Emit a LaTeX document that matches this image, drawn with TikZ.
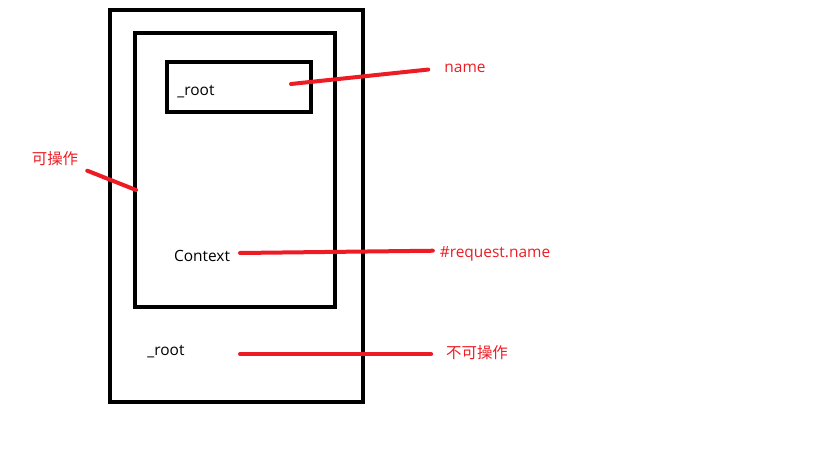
\documentclass[tikz,border=0pt]{standalone}
\usepackage{fontspec}
\setmainfont{Open Sans}
\newfontfamily\cjk{Noto Sans CJK SC}
\definecolor{paintred}{RGB}{237,28,36}
\begin{document}
\begin{tikzpicture}[x=0.75pt,y=-0.75pt,
            box/.style={draw,line width=3pt,inner sep=0pt},
            label node/.style={font=\fontsize{11.6}{13}\selectfont,inner sep=1pt},
            note/.style={label node,text=paintred},
            mark line/.style={draw=paintred,line width=3pt,line cap=round}]
        \useasboundingbox (0,0) rectangle (819,460);

        % Define boxes
        \node[box,minimum width=189.75pt,minimum height=294pt] (outer) at (236.5,206) {};
        \node[box,minimum width=150pt,minimum height=205.5pt] (inner) at (235,170) {};
        \node[box,minimum width=108pt,minimum height=37.5pt] (name box) at (239,87) {};

        % Define texts
        \node[label node] (root top) at (196,92) {\_root};
        \node[label node] (context) at (202,256) {Context};
        \node[label node] (root bottom) at (166,352) {\_root};
        \node[note] (name) at (465,68) {name};
        \node[note] (request) at (495,254) {\#request.name};
        \node[note] (usable) at (55,159) {\cjk 可操作};
        \node[note] (unusable) at (477,353) {\cjk 不可操作};

        % Define line ends
        \coordinate (p1) at (291,84);
        \coordinate (p2) at (136,190);
        \coordinate (p3) at (240,253);
        \coordinate (p4) at (240,354);

        % Draw marks
        \path[mark line]
            (p1) edge[shorten >=11pt] (name.west)
            (p2) edge[shorten >=6pt] (usable.south east)
            (p3) edge[shorten >=4pt] ([yshift=2.5pt]request.west)
            (p4) edge[shorten >=10pt] (unusable.west |- p4);

\end{tikzpicture}
\end{document}
